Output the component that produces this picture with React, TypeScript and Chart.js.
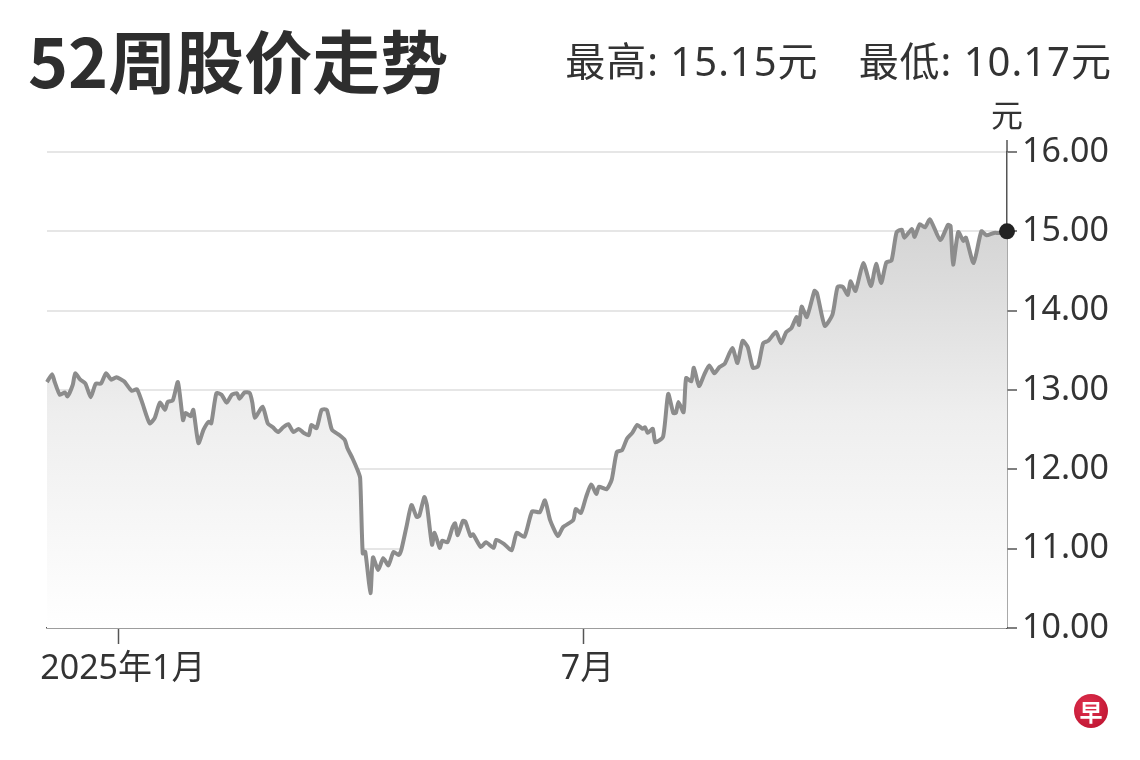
import React, { useEffect, useRef } from "react";
import { Chart, registerables } from "chart.js";

Chart.register(...registerables);

const TITLE = "52周股价走势";
const HIGH_LABEL = "最高: 15.15元";
const LOW_LABEL = "最低: 10.17元";
const UNIT_LABEL = "元";
const LOGO_CHAR = "早";

// Days relative to 2025-01-01
const dayOffsets = [
  -28, -26, -25, -23, -21, -20, -18, -17, -15, -13,
  -11, -9, -7, -5, -3, -1, 2, 5, 7, 9,
  12, 14, 16, 18, 19, 21, 23, 25, 26, 28,
  29, 31, 33, 35, 36, 38, 40, 42, 44, 46,
  47, 49, 51, 52, 53, 56, 58, 60, 62, 64,
  66, 68, 70, 72, 74, 75, 77, 79, 81, 83,
  86, 88, 89, 91, 93, 94, 95, 96, 98, 99,
  101, 103, 105, 107, 109, 110, 112, 114, 116, 117,
  119, 120, 122, 123, 125, 126, 128, 130, 131, 132,
  134, 135, 137, 138, 141, 143, 146, 147, 150, 153,
  155, 158, 161, 164, 166, 168, 171, 173, 177, 178,
  180, 182, 184, 186, 187, 190, 192, 194, 196, 198,
  200, 202, 204, 205, 206, 208, 209, 212, 214, 216,
  217, 218, 220, 221, 223, 224, 226, 228, 230, 232,
  234, 236, 239, 241, 243, 245, 247, 249, 251, 253,
  256, 258, 260, 262, 264, 265, 266, 268, 271, 272,
  275, 278, 280, 282, 284, 285, 287, 290, 293, 295,
  297, 299, 301, 303, 305, 306, 309, 310, 312, 314,
  316, 320, 323, 324, 325, 327, 329, 330, 333, 336,
  338, 341, 343, 346,
];

const closePrices = [
  13.10, 13.20, 13.10, 12.94, 12.97, 12.92, 13.06, 13.21, 13.13, 13.08,
  12.91, 13.08, 13.08, 13.21, 13.13, 13.16, 13.11, 12.99, 13.01, 12.85,
  12.58, 12.65, 12.84, 12.75, 12.85, 12.87, 13.10, 12.62, 12.71, 12.67,
  12.75, 12.33, 12.50, 12.60, 12.58, 12.96, 12.94, 12.84, 12.94, 12.96,
  12.89, 12.97, 12.96, 12.84, 12.65, 12.79, 12.58, 12.53, 12.47, 12.53,
  12.57, 12.47, 12.51, 12.46, 12.43, 12.56, 12.52, 12.75, 12.75, 12.50,
  12.43, 12.37, 12.27, 12.14, 11.99, 11.89, 10.94, 10.96, 10.44, 10.89,
  10.73, 10.88, 10.79, 10.96, 10.92, 10.98, 11.27, 11.55, 11.40, 11.41,
  11.65, 11.55, 11.05, 11.20, 11.01, 11.10, 11.08, 11.27, 11.32, 11.17,
  11.35, 11.34, 11.16, 11.18, 11.02, 11.08, 11.01, 11.11, 11.06, 10.98,
  11.20, 11.15, 11.47, 11.46, 11.61, 11.36, 11.16, 11.27, 11.36, 11.50,
  11.45, 11.65, 11.81, 11.69, 11.78, 11.75, 11.87, 12.22, 12.24, 12.39,
  12.46, 12.56, 12.51, 12.53, 12.46, 12.51, 12.34, 12.41, 12.95, 12.71,
  12.71, 12.85, 12.72, 13.15, 13.11, 13.28, 13.05, 13.19, 13.31, 13.21,
  13.29, 13.33, 13.53, 13.34, 13.62, 13.54, 13.28, 13.30, 13.59, 13.62,
  13.73, 13.59, 13.73, 13.78, 13.92, 13.82, 14.05, 13.92, 14.25, 14.22,
  13.81, 13.95, 14.30, 14.30, 14.20, 14.37, 14.25, 14.60, 14.31, 14.59,
  14.35, 14.61, 14.63, 14.99, 15.02, 14.92, 15.03, 14.93, 15.09, 15.05,
  15.15, 14.89, 15.08, 15.07, 14.58, 14.99, 14.88, 14.92, 14.60, 15.00,
  14.95, 14.98, 14.98, 15.00,
];

const xTickValues = [0, 181];
const xTickLabels = ["2025年1月", "7月"];
const xMin = -28;
const xMax = 346;
const yMin = 10;
const yMax = 16;
const yStep = 1;

const FONT = "'Noto Sans CJK SC', 'Noto Sans', sans-serif";
const AXIS_FONT = "'Noto Sans', 'Noto Sans CJK SC', sans-serif";

const axisExtension = {
  id: "axisExtension",
  afterDraw(chart: any) {
    const { ctx, chartArea } = chart;
    ctx.save();
    ctx.strokeStyle = "#555";
    ctx.lineWidth = 1.5;
    ctx.beginPath();
    ctx.moveTo(chartArea.right, chartArea.top - 12);
    ctx.lineTo(chartArea.right, chartArea.top);
    ctx.stroke();
    ctx.restore();
  },
};

export default function App() {
  const canvasRef = useRef<HTMLCanvasElement>(null);

  useEffect(() => {
    const canvas = canvasRef.current;
    if (!canvas) return;
    const points = dayOffsets.map((d, i) => ({ x: d, y: closePrices[i] }));
    const last = points.length - 1;

    const chart = new Chart(canvas, {
      type: "line",
      data: {
        datasets: [
          {
            data: points,
            borderColor: "#8c8c8c",
            borderWidth: 4,
            borderJoinStyle: "round",
            tension: 0.2,
            fill: "start",
            backgroundColor: (ctx: any) => {
              const { chart: c } = ctx;
              const area = c.chartArea;
              if (!area) return "#eeeeee";
              const g = c.ctx.createLinearGradient(0, area.top, 0, area.bottom);
              g.addColorStop(0, "#cbcbcb");
              g.addColorStop(0.25, "#dadada");
              g.addColorStop(0.55, "#eeeeee");
              g.addColorStop(1, "#ffffff");
              return g;
            },
            pointRadius: points.map((_, i) => (i === last ? 8 : 0)),
            pointHoverRadius: 0,
            pointBackgroundColor: "#222222",
            pointBorderWidth: 0,
            clip: false as any,
          },
        ],
      },
      options: {
        responsive: false,
        animation: false,
        devicePixelRatio: 1,
        layout: { padding: { left: 47, top: 152, right: 0, bottom: 0 } },
        plugins: {
          legend: { display: false },
          tooltip: { enabled: false },
        },
        scales: {
          x: {
            type: "linear",
            min: xMin,
            max: xMax,
            afterBuildTicks: (scale: any) => {
              scale.ticks = xTickValues.map((v) => ({ value: v }));
            },
            afterFit: (scale: any) => {
              scale.height = 132;
            },
            grid: {
              drawOnChartArea: false,
              drawTicks: true,
              tickLength: 16,
              tickColor: "#555",
              tickWidth: 1.5,
            },
            border: { display: true, color: "#555", width: 1.5 },
            ticks: {
              autoSkip: false,
              maxRotation: 0,
              padding: 5,
              labelOffset: 4,
              color: "#333",
              font: { family: AXIS_FONT, size: 34 },
              callback: (v: any) => {
                const i = xTickValues.indexOf(Number(v));
                return i >= 0 ? xTickLabels[i] : "";
              },
            },
          },
          y: {
            position: "right",
            min: yMin,
            max: yMax,
            afterFit: (scale: any) => {
              scale.width = 133;
            },
            grid: {
              color: "#e6e6e6",
              lineWidth: 2,
              tickColor: "#555",
              tickLength: 10,
              tickWidth: 1.5,
            },
            border: { display: true, color: "#555", width: 1.5 },
            ticks: {
              stepSize: yStep,
              padding: 5,
              color: "#333",
              font: { family: AXIS_FONT, size: 34 },
              callback: (v: any) => Number(v).toFixed(2),
            },
          },
        },
      },
      plugins: [axisExtension],
    });

    return () => chart.destroy();
  }, []);

  return (
    <div
      style={{
        position: "fixed",
        left: 0,
        top: 0,
        width: 1140,
        height: 760,
        background: "#ffffff",
        overflow: "hidden",
        fontFamily: FONT,
      }}
    >
      <canvas ref={canvasRef} width={1140} height={760} style={{ position: "absolute", left: 0, top: 0 }} />
      <div
        style={{
          position: "absolute",
          left: 28,
          top: 25,
          fontSize: 68,
          lineHeight: "68px",
          fontWeight: 700,
          color: "#2e2e2e",
          whiteSpace: "nowrap",
        }}
      >
        {TITLE}
      </div>
      <div
        style={{
          position: "absolute",
          right: 28,
          top: 41,
          fontSize: 40,
          lineHeight: "40px",
          letterSpacing: 1,
          color: "#333",
          whiteSpace: "nowrap",
          display: "flex",
          gap: 40,
          fontFamily: AXIS_FONT,
        }}
      >
        <span>{HIGH_LABEL}</span>
        <span>{LOW_LABEL}</span>
      </div>
      <div
        style={{
          position: "absolute",
          left: 991,
          top: 97,
          fontSize: 32,
          lineHeight: "32px",
          color: "#333",
        }}
      >
        {UNIT_LABEL}
      </div>
      <div
        style={{
          position: "absolute",
          left: 1074,
          top: 694,
          width: 34,
          height: 34,
          borderRadius: "50%",
          background: "radial-gradient(circle at 40% 35%, #e0304e, #b8102c)",
          color: "#fff",
          fontSize: 23,
          lineHeight: "34px",
          textAlign: "center",
          fontWeight: 700,
        }}
      >
        {LOGO_CHAR}
      </div>
    </div>
  );
}
